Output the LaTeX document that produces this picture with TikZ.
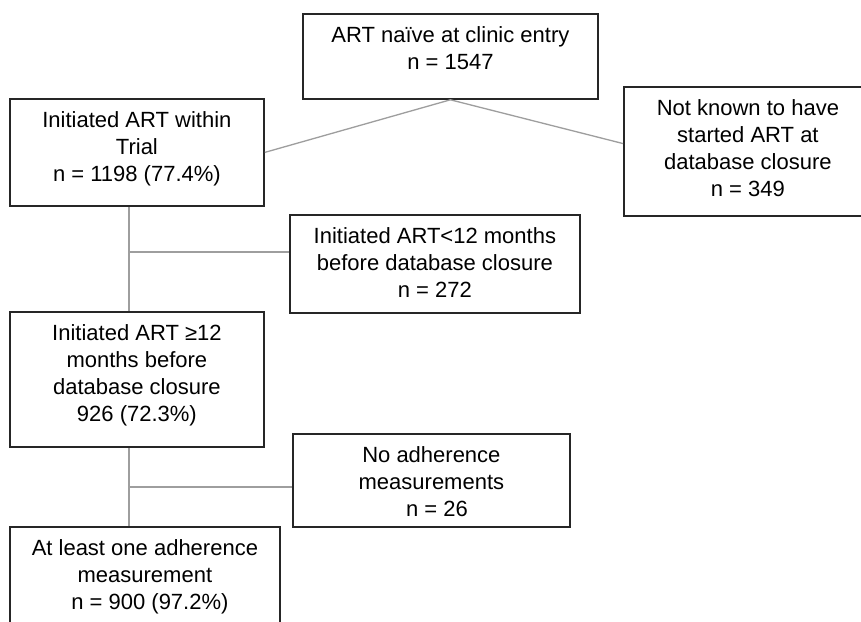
\documentclass[tikz,border=0pt]{standalone}
\usepackage{fontspec}
\setmainfont{Liberation Sans}
\usetikzlibrary{calc}
\newcommand{\lines}[1]{\begin{tabular}[t]{@{}c@{}}#1\end{tabular}}
\begin{document}
\begin{tikzpicture}[x=1pt,y=-1pt,
  box/.style={draw=black!85, line width=1.8pt, rectangle, inner sep=0pt, anchor=north west},
  txt/.style={anchor=base, inner sep=0pt, font=\fontsize{22}{27}\selectfont},
  conn/.style={draw=black!38, line width=1.3pt}]
\useasboundingbox (0,0) rectangle (861,621);
\clip (0,0) rectangle (861,621);
\fill[white] (0,0) rectangle (861,621);
% boxes
\node[box, minimum width=295pt, minimum height=85pt]  (top)  at (302,13)  {};
\node[box, minimum width=254pt, minimum height=107pt] (init) at (9,98)    {};
\node[box, minimum width=248pt, minimum height=129pt] (nk)   at (623,86)  {};
\node[box, minimum width=290pt, minimum height=98pt]  (lt)   at (289,214) {};
\node[box, minimum width=254pt, minimum height=135pt] (ge)   at (9,311)   {};
\node[box, minimum width=277pt, minimum height=93pt]  (na)   at (292,433) {};
\node[box, minimum width=270pt, minimum height=114pt] (al)   at (9,526)   {};
% texts
\node[txt] (ttop)  at ($(top.north)+(0,29)$)  {\lines{ART naïve at clinic entry\\n = 1547}};
\node[txt] (tinit) at ($(init.north)+(0,29)$) {\lines{Initiated ART within\\Trial\\n = 1198 (77.4\%)}};
\node[txt] (tnk)   at ($(nk.north)+(0,29)$)   {\lines{Not known to have\\started ART at\\database closure\\n = 349}};
\node[txt] (tlt)   at ($(lt.north)+(0,29)$)   {\lines{Initiated ART<12 months\\before database closure\\n = 272}};
\node[txt] (tge)   at ($(ge.north)+(0,29)$)   {\lines{Initiated ART ≥12\\months before\\database closure\\926 (72.3\%)}};
\node[txt] (tna)   at ($(na.north)+(0,29)$)   {\lines{No adherence\\measurements\\\hspace*{11pt}n = 26}};
\node[txt] (tal)   at ($(al.north)+(0,29)$)   {\lines{At least one adherence\\measurement\\\hspace*{10pt}n = 900 (97.2\%)}};
% connectors
\coordinate (trunk) at (129,0);
\coordinate (b1) at (129,252);
\coordinate (b2) at (129,487);
\draw[conn] (init.east) -- (top.south) -- ($(nk.north west)!0.44!(nk.south west)$);
\draw[conn] (init.south -| trunk) -- (ge.north -| trunk);
\draw[conn] (b1) -- (b1 -| lt.west);
\draw[conn] (ge.south -| trunk) -- (al.north -| trunk);
\draw[conn] (b2) -- (b2 -| na.west);
\end{tikzpicture}
\end{document}
